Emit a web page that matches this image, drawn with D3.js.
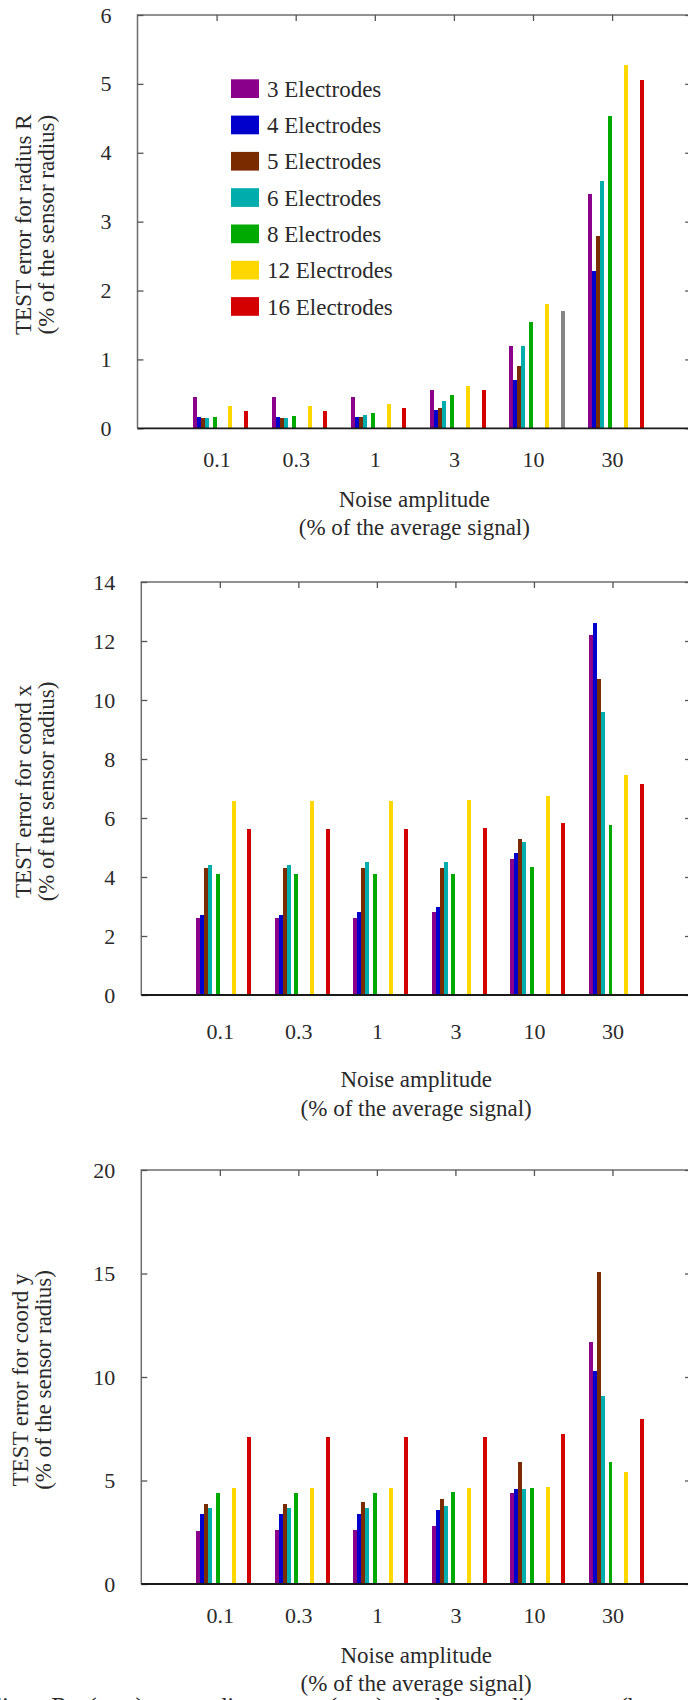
<!DOCTYPE html>
<html>
<head>
<meta charset="utf-8">
<script src="https://cdn.jsdelivr.net/npm/d3@7"></script>
<style>
	body { margin: 0; background: #fff; }
	svg text { font-family: "Liberation Serif", serif; font-size: 22px; fill: #2a2a2a; }
</style>
</head>
<body>
<div id="chart"></div>
<script>
// noise amplitude categories (% of the average signal)
var noiseLevels = ["0.1", "0.3", "1", "3", "10", "30"];
// number of electrodes, one series each
var electrodes = [3, 4, 5, 6, 8, 12, 16];
var seriesColors = ["#8b008b", "#0000cc", "#7a2c00", "#00adad", "#00aa00", "#ffd700", "#d40000"];

// TEST error for radius R, rows = electrodes, cols = noise level
var radiusErr = [
	[0.45, 0.45, 0.46, 0.56, 1.19, 3.40],
	[0.16, 0.16, 0.16, 0.26, 0.70, 2.29],
	[0.145, 0.145, 0.16, 0.29, 0.90, 2.79],
	[0.145, 0.145, 0.19, 0.39, 1.19, 3.59],
	[0.16, 0.175, 0.22, 0.48, 1.54, 4.53],
	[0.32, 0.32, 0.36, 0.61, 1.80, 5.27],
	[0.25, 0.25, 0.30, 0.55, 1.71, 5.05]
];
// the 16 electrode bar of the radius chart is drawn grey at these noise levels
var radiusGreyBars = ["10"];

// TEST error for coord x
var coordXErr = [
	[2.6, 2.6, 2.6, 2.8, 4.6, 12.2],
	[2.7, 2.7, 2.8, 3.0, 4.8, 12.6],
	[4.3, 4.3, 4.3, 4.3, 5.3, 10.7],
	[4.4, 4.4, 4.5, 4.5, 5.2, 9.6],
	[4.1, 4.1, 4.1, 4.1, 4.35, 5.75],
	[6.58, 6.58, 6.58, 6.61, 6.75, 7.45],
	[5.62, 5.62, 5.62, 5.65, 5.82, 7.15]
];

// TEST error for coord y
var coordYErr = [
	[2.56, 2.6, 2.6, 2.8, 4.39, 11.67],
	[3.38, 3.38, 3.38, 3.57, 4.58, 10.27],
	[3.86, 3.86, 3.96, 4.1, 5.89, 15.05],
	[3.67, 3.67, 3.67, 3.76, 4.58, 9.07],
	[4.39, 4.39, 4.39, 4.44, 4.63, 5.89],
	[4.63, 4.63, 4.63, 4.63, 4.68, 5.40],
	[7.09, 7.09, 7.09, 7.09, 7.24, 7.96]
];

var radiusTicks = [0, 1, 2, 3, 4, 5, 6];
var coordXTicks = [0, 2, 4, 6, 8, 10, 12, 14];
var coordYTicks = [0, 5, 10, 15, 20];

function init() {
	var w = 688;
	var h = 1700;

	var svg = d3.select("#chart")
				.append("svg")
				.attr("width", w)
				.attr("height", h);

	//one entry per panel: data + where it sits on the page
	var panels = [
		{ values: radiusErr, ticks: radiusTicks, title: "TEST error for radius R", grey: radiusGreyBars,
		  left: 137.5, right: 691.2, top: 15, bottom: 428.3, labelX: 31, tickPad: 23, titleGap: [79, 107], legend: true },
		{ values: coordXErr, ticks: coordXTicks, title: "TEST error for coord x", grey: [],
		  left: 141.3, right: 691, top: 582, bottom: 995, labelX: 31, tickPad: 28, titleGap: [92, 121], legend: false },
		{ values: coordYErr, ticks: coordYTicks, title: "TEST error for coord y", grey: [],
		  left: 141.3, right: 691, top: 1170, bottom: 1584, labelX: 28, tickPad: 23, titleGap: [79, 107], legend: false }
	];

	panels.forEach(function(p) {
		var g = svg.append("g");

		var xScale = d3.scaleLinear()
					.domain([0, noiseLevels.length + 1])
					.range([p.left, p.right]);
		var yScale = d3.scaleLinear()
					.domain([0, d3.max(p.ticks)])
					.range([p.bottom, p.top]);
		var barW = xScale(0.05) - xScale(0);

		//frame: top + left + right
		g.append("path")
			.attr("d", "M" + p.left + "," + p.bottom + "V" + p.top + "H" + p.right + "V" + p.bottom)
			.attr("fill", "none")
			.attr("stroke", "#6e6e6e")
			.attr("stroke-width", 1.5);

		//Axis - Y-axis (inward ticks, labels on the left)
		var yAxis = d3.axisLeft(yScale)
					.tickValues(p.ticks)
					.tickFormat(d3.format("d"))
					.tickSizeInner(-6)
					.tickSizeOuter(0)
					.tickPadding(26);
		var ya = g.append("g")
			.attr("transform", "translate(" + p.left + ",0)")
			.call(yAxis);
		ya.select(".domain").remove();
		ya.selectAll("line").attr("stroke", "#555").attr("stroke-width", 1.3);

		//right side ticks
		var ra = g.append("g")
			.attr("transform", "translate(" + p.right + ",0)")
			.call(d3.axisRight(yScale).tickValues(p.ticks).tickSizeInner(-6).tickSizeOuter(0).tickFormat(""));
		ra.select(".domain").remove();
		ra.selectAll("line").attr("stroke", "#555").attr("stroke-width", 1.3);

		//top ticks at each category
		var ta = g.append("g")
			.attr("transform", "translate(0," + p.top + ")")
			.call(d3.axisTop(xScale).tickValues(d3.range(1, noiseLevels.length + 1)).tickSizeInner(-6).tickSizeOuter(0).tickFormat(""));
		ta.select(".domain").remove();
		ta.selectAll("line").attr("stroke", "#555").attr("stroke-width", 1.3);

		//Axis - X-axis labels
		var xa = g.append("g")
			.attr("transform", "translate(0," + p.bottom + ")")
			.call(d3.axisBottom(xScale)
				.tickValues(d3.range(1, noiseLevels.length + 1))
				.tickSize(0)
				.tickPadding(p.tickPad)
				.tickFormat(function(d) { return noiseLevels[d - 1]; }));
		xa.select(".domain").remove();

		//Drawing the bars
		var bars = [];
		p.values.forEach(function(row, s) {
			row.forEach(function(v, c) {
				bars.push({ s: s, c: c, v: v });
			});
		});
		g.append("g")
			.selectAll("rect")
			.data(bars)
			.enter()
			.append("rect")
			.attr("x", function(d) {
				return xScale(d.c + 1 + (electrodes[d.s] - 8.5) * 0.05) - barW / 2;
			})
			.attr("y", function(d) { return yScale(d.v); })
			.attr("width", barW)
			.attr("height", function(d) { return yScale(0) - yScale(d.v); })
			.attr("fill", function(d) {
				if (electrodes[d.s] == 16 && p.grey.indexOf(noiseLevels[d.c]) >= 0) return "#858585";
				return seriesColors[d.s];
			})
			.attr("shape-rendering", "crispEdges");

		//baseline
		g.append("line")
			.attr("x1", p.left).attr("x2", p.right)
			.attr("y1", yScale(0)).attr("y2", yScale(0))
			.attr("stroke", "#1a1a1a")
			.attr("stroke-width", 1.8);

		//Y-axis label
		var cy = (p.top + p.bottom) / 2 + 3;
		g.append("text")
			.attr("text-anchor", "middle")
			.attr("transform", "translate(" + p.labelX + "," + cy + ")rotate(-90)")
			.style("font-size", "23px")
			.text(p.title);
		g.append("text")
			.attr("text-anchor", "middle")
			.attr("transform", "translate(" + (p.labelX + 23) + "," + cy + ")rotate(-90)")
			.style("font-size", "23px")
			.text("(% of the sensor radius)");

		//X-axis label
		var cx = (p.left + p.right) / 2;
		g.append("text")
			.attr("x", cx)
			.attr("y", p.bottom + p.titleGap[0])
			.attr("text-anchor", "middle")
			.style("font-size", "23px")
			.text("Noise amplitude");
		g.append("text")
			.attr("x", cx)
			.attr("y", p.bottom + p.titleGap[1])
			.attr("text-anchor", "middle")
			.style("font-size", "23px")
			.text("(% of the average signal)");

		//legend only on the first panel
		if (p.legend) {
			var leg = g.append("g")
				.selectAll("g")
				.data(electrodes)
				.enter()
				.append("g")
				.attr("transform", function(d, i) { return "translate(231," + (79.3 + i * 36.3) + ")"; });
			leg.append("rect")
				.attr("width", 28)
				.attr("height", 18.7)
				.attr("fill", function(d, i) { return seriesColors[i]; });
			leg.append("text")
				.attr("x", 36)
				.attr("y", 9.5)
				.attr("dy", "0.35em")
				.style("font-size", "23px")
				.text(function(d) { return d + " Electrodes"; });
		}
	});

	//caption line, cut off by the page edge
	svg.append("text")
		.attr("x", -30)
		.attr("y", 1715)
		.style("font-size", "25px")
		.style("word-spacing", "14px")
		.text("radius R (mm),  coordinate x (mm)  and  coordinate y (b");
}
window.onload = init;
</script>
</body>
</html>
